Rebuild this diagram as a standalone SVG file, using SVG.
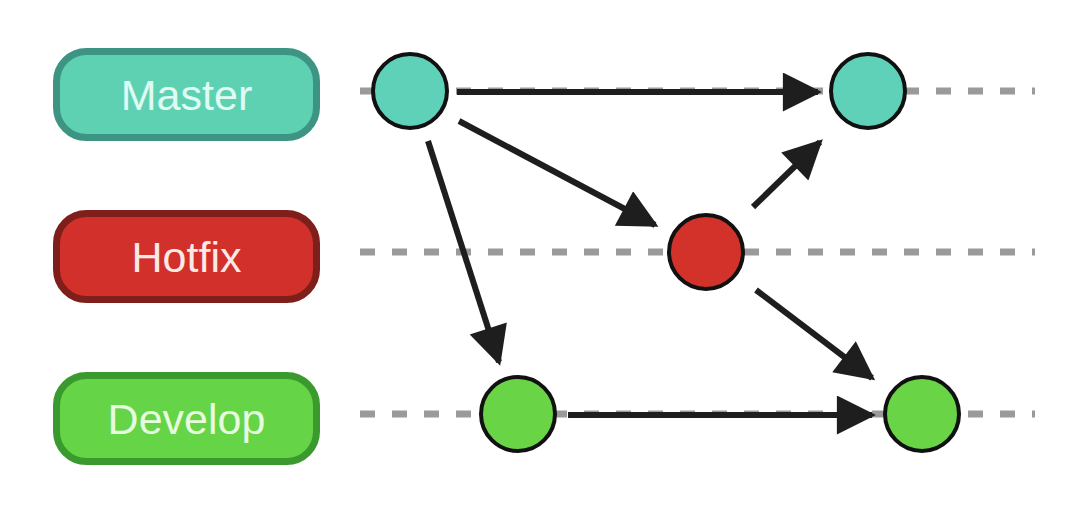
<svg xmlns="http://www.w3.org/2000/svg" width="1088" height="512" viewBox="0 0 1088 512">
<style>
.pill{stroke-width:7}
.pt{font-family:"Liberation Sans",Arial,sans-serif;font-size:43px;text-anchor:middle;dominant-baseline:central}
.lane{stroke:#9a9a9a;stroke-width:7;stroke-dasharray:15 17;fill:none}
.c{stroke:#111;stroke-width:4}
.e{stroke:#1e1e1e;stroke-width:6;fill:none;marker-end:url(#ah)}
</style>
<defs>
<marker id="ah" viewBox="0 0 10 10" refX="9" refY="5" markerWidth="7" markerHeight="6.5" markerUnits="strokeWidth" orient="auto">
<path d="M0,0 L10,5 L0,10 Z" fill="#1e1e1e"/>
</marker>
</defs>
<rect width="1088" height="512" fill="#fff"/>
<g id="lanes">
<line class="lane" x1="360" y1="91" x2="1035" y2="91"/>
<line class="lane" x1="360" y1="252" x2="1035" y2="252"/>
<line class="lane" x1="360" y1="414" x2="1035" y2="414"/>
</g>
<g id="label-master">
<rect class="pill" x="56.5" y="51.5" width="260" height="86" rx="30" fill="#5fd1b3" stroke="#3d9483"/>
<text class="pt" x="186.5" y="95" fill="#dffcf3">Master</text>
</g>
<g id="label-hotfix">
<rect class="pill" x="56.5" y="213.5" width="260" height="86" rx="30" fill="#d1312a" stroke="#7f1f1b"/>
<text class="pt" x="186.5" y="257" fill="#fbe9e8">Hotfix</text>
</g>
<g id="label-develop">
<rect class="pill" x="56.5" y="375.5" width="260" height="86" rx="30" fill="#65d446" stroke="#3a9a2e"/>
<text class="pt" x="186.5" y="419" fill="#e6fbdf">Develop</text>
</g>
<g id="connectors">
<line class="e" x1="457" y1="92" x2="818" y2="92"/>
<line class="e" x1="459" y1="121" x2="655" y2="225"/>
<line class="e" x1="428" y1="141" x2="499" y2="362"/>
<line class="e" x1="753" y1="207" x2="820" y2="142"/>
<line class="e" x1="756" y1="290" x2="872" y2="378"/>
<line class="e" x1="568" y1="415" x2="872" y2="415"/>
</g>
<g id="m1"><circle class="c" cx="410" cy="91" r="37" fill="#5fd1b8"/></g>
<g id="m2"><circle class="c" cx="868" cy="91" r="37" fill="#5fd1b8"/></g>
<g id="h1"><circle class="c" cx="706" cy="252" r="37" fill="#d3322a"/></g>
<g id="d1"><circle class="c" cx="518" cy="414" r="37" fill="#68d446"/></g>
<g id="d2"><circle class="c" cx="922" cy="414" r="37" fill="#68d446"/></g>
</svg>
